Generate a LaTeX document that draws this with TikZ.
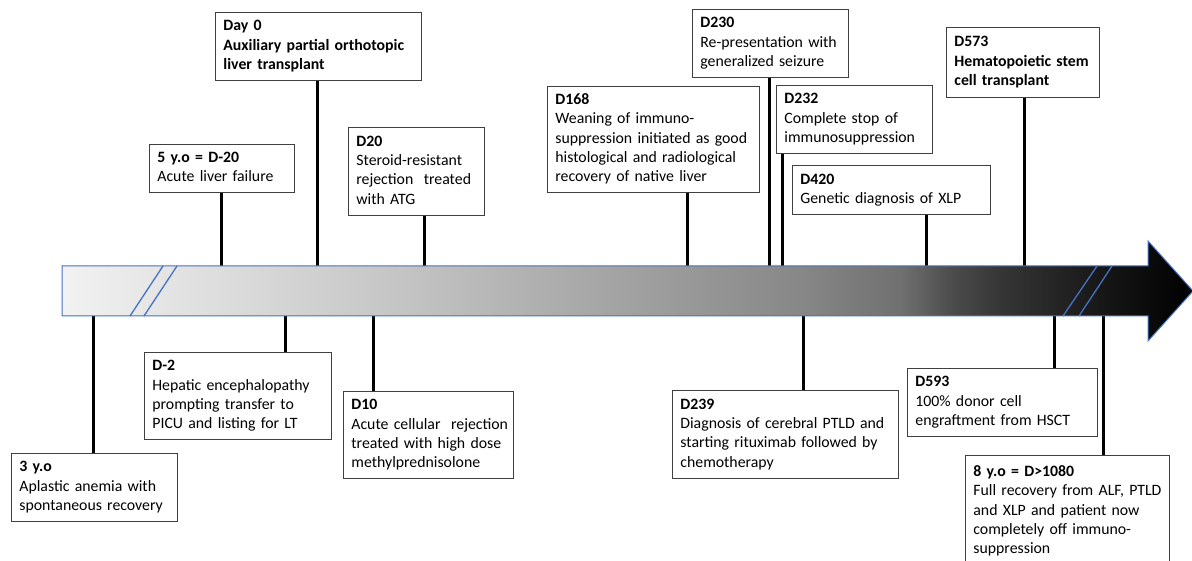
\documentclass[tikz,border=0pt]{standalone}
\usepackage{fontspec}
\setmainfont{Carlito}
\definecolor{blueb}{RGB}{68,114,196}
\definecolor{boxline}{RGB}{64,64,64}
\newcommand\evt[1]{\begin{tabular}{@{}l@{}}#1\end{tabular}}
\pgfdeclarehorizontalshading{tlshade}{100bp}{color(0bp)=(black!5); color(25bp)=(black!5); color(40bp)=(black!23); color(57.65bp)=(black!47); color(62.1bp)=(black!56); color(64.3bp)=(black!70); color(66.5bp)=(black!79); color(70.95bp)=(black!91); color(75bp)=(black); color(100bp)=(black)}
\begin{document}
\begin{tikzpicture}[x=1pt,y=-1pt,
  evbox/.style={draw=boxline, line width=0.8pt, fill=white, anchor=north west,
    inner xsep=8pt, inner ysep=0pt, align=left,
    font=\fontsize{15.8}{19.3}\selectfont},
  stem/.style={line width=3pt},
  brk/.style={draw=blueb, line width=1.3pt}]
\useasboundingbox (0,0) rectangle (1192,561);

% top boxes
\node[evbox, minimum width=206pt, minimum height=68pt, text width=190pt] (day0) at (215,12)
  {\bfseries\evt{Day 0\\Auxiliary partial orthotopic\\liver transplant}};
\node[evbox, minimum width=145pt, minimum height=48pt, text width=129pt] (yo5) at (149,144)
  {\evt{\textbf{5 y.o = D-20}\\Acute liver failure}};
\node[evbox, minimum width=136pt, minimum height=88pt, text width=120pt] (d20) at (348,127)
  {\evt{\textbf{D20}\\Steroid-resistant\\rejection~ treated\\with ATG}};
\node[evbox, minimum width=212pt, minimum height=106pt, text width=196pt] (d168) at (547,86)
  {\evt{\textbf{D168}\\Weaning of immuno-\\suppression initiated as good\\histological and radiological\\recovery of native liver}};
\node[evbox, minimum width=156pt, minimum height=68pt, text width=140pt] (d230) at (692,9)
  {\evt{\textbf{D230}\\Re-presentation with\\generalized seizure}};
\node[evbox, minimum width=156pt, minimum height=68pt, text width=140pt] (d232) at (776,85)
  {\evt{\textbf{D232}\\Complete stop of\\immunosuppression}};
\node[evbox, minimum width=198pt, minimum height=49pt, text width=182pt] (d420) at (792,165)
  {\evt{\textbf{D420}\\Genetic diagnosis of XLP}};
\node[evbox, minimum width=153pt, minimum height=70pt, text width=137pt] (d573) at (946,27)
  {\bfseries\evt{D573\\Hematopoietic stem\\cell transplant}};

% bottom boxes
\node[evbox, minimum width=166pt, minimum height=68pt, text width=150pt] (yo3) at (11,453)
  {\evt{\textbf{3 y.o}\\Aplastic anemia with\\spontaneous recovery}};
\node[evbox, minimum width=187pt, minimum height=87pt, text width=171pt] (dm2) at (144,352)
  {\evt{\textbf{D-2}\\Hepatic encephalopathy\\prompting transfer to\\PICU and listing for LT}};
\node[evbox, minimum width=170pt, minimum height=87pt, text width=154pt] (d10) at (343,391)
  {\evt{\textbf{D10}\\Acute cellular~ rejection\\treated with high dose\\methylprednisolone}};
\node[evbox, minimum width=226pt, minimum height=88pt, text width=210pt] (d239) at (672,390)
  {\evt{\textbf{D239}\\Diagnosis of cerebral PTLD and\\starting rituximab followed by\\chemotherapy}};
\node[evbox, minimum width=190pt, minimum height=68pt, text width=174pt] (d593) at (907,368)
  {\evt{\textbf{D593}\\100\% donor cell\\engraftment from HSCT}};
\node[evbox, minimum width=204pt, minimum height=112pt, text width=188pt] (yo8) at (965,455)
  {\evt{\textbf{8 y.o = D>1080}\\Full recovery from ALF, PTLD\\and XLP and patient now\\completely off immuno-\\suppression}};

% points on the time arrow
\coordinate (t1) at (221,266);
\coordinate (t2) at (317,266);
\coordinate (t3) at (424,266);
\coordinate (t4) at (687,266);
\coordinate (t5) at (769,266);
\coordinate (t6) at (782,266);
\coordinate (t7) at (926,266);
\coordinate (t8) at (1024,266);
\coordinate (b1) at (93,316);
\coordinate (b2) at (285,316);
\coordinate (b3) at (373,316);
\coordinate (b4) at (803,316);
\coordinate (b5) at (1054,316);
\coordinate (b6) at (1103,316);

% stems
\draw[stem] (yo5.south -| t1) -- (t1);
\draw[stem] (day0.south -| t2) -- (t2);
\draw[stem] (d20.south -| t3) -- (t3);
\draw[stem] (d168.south -| t4) -- (t4);
\draw[stem] (d230.south -| t5) -- (t5);
\draw[stem] (d232.south -| t6) -- (t6);
\draw[stem] (d420.south -| t7) -- (t7);
\draw[stem] (d573.south -| t8) -- (t8);
\draw[stem] (b1) -- (yo3.north -| b1);
\draw[stem] (b2) -- (dm2.north -| b2);
\draw[stem] (b3) -- (d10.north -| b3);
\draw[stem] (b4) -- (d239.north -| b4);
\draw[stem] (b5) -- (d593.north -| b5);
\draw[stem] (b6) -- (yo8.north -| b6);

% time arrow
\path[shading=tlshade, draw=blueb, line width=1pt, line join=miter]
  (62,266) -- (1148,266) -- (1148,241) -- (1193,291) -- (1148,341) -- (1148,316) -- (62,316) -- cycle;

% break marks
\draw[brk] (130,316) -- (163,266);
\draw[brk] (144,316) -- (177,266);
\draw[brk] (1063,316) -- (1097,266);
\draw[brk] (1079,316) -- (1112,266);
\end{tikzpicture}
\end{document}
